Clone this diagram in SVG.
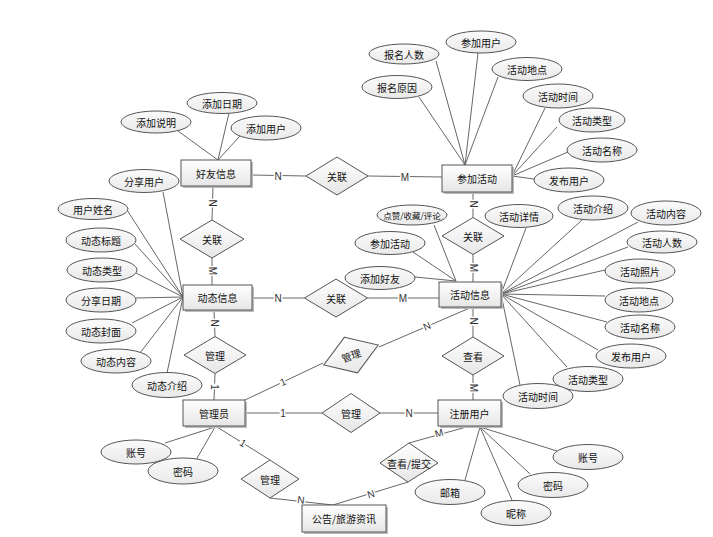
<svg xmlns="http://www.w3.org/2000/svg" width="713" height="537" viewBox="0 0 713 537">
<defs>
<linearGradient id="g" x1="0" y1="0" x2="0" y2="1"><stop offset="0" stop-color="#ffffff"/><stop offset="1" stop-color="#e6e6e6"/></linearGradient>
<linearGradient id="ge" x1="0" y1="0" x2="0" y2="1"><stop offset="0" stop-color="#fbfbfb"/><stop offset="1" stop-color="#e9e9e9"/></linearGradient>
</defs>
<style>
.c line,.c polyline{stroke:#666;stroke-width:1;fill:none}
.e ellipse{fill:url(#ge);stroke:#555;stroke-width:1}
.r rect.s{fill:#bbb;stroke:none}
.r rect.b{fill:url(#g);stroke:#555;stroke-width:1}
.d polygon{fill:url(#g);stroke:#555;stroke-width:1}
text{font-family:"Noto Sans CJK SC","Liberation Sans",sans-serif;font-size:10px;fill:#111;text-anchor:middle;dominant-baseline:central}
.lb{font-family:"Liberation Sans",sans-serif;font-size:10px;fill:#333;stroke:#fff;stroke-width:3;paint-order:stroke}
</style>
<rect width="713" height="537" fill="#fff"/>
<g id="connectors" class="c">
<line x1="251" y1="175" x2="306" y2="176"/>
<line x1="368" y1="176" x2="442" y2="177"/>
<line x1="213" y1="186" x2="212" y2="220"/>
<line x1="212" y1="258" x2="212" y2="285"/>
<line x1="252" y1="298" x2="304.5" y2="298"/>
<line x1="367.5" y1="298" x2="439" y2="298"/>
<line x1="473" y1="192" x2="473" y2="217.5"/>
<line x1="473" y1="254.5" x2="473" y2="282"/>
<line x1="214" y1="310" x2="215" y2="336.5"/>
<line x1="215" y1="373.5" x2="214" y2="400"/>
<line x1="473" y1="307" x2="473" y2="337"/>
<line x1="473" y1="375" x2="473" y2="400"/>
<line x1="245" y1="400" x2="323" y2="363"/>
<line x1="379" y1="347" x2="472" y2="307"/>
<line x1="245" y1="413" x2="322" y2="413"/>
<line x1="380" y1="413" x2="438" y2="413"/>
<line x1="217" y1="427" x2="270" y2="460"/>
<line x1="270" y1="498" x2="333" y2="505"/>
<line x1="333" y1="505" x2="408" y2="482"/>
<line x1="409" y1="443" x2="470" y2="426"/>
<!-- attributes -->
<line x1="218" y1="160" x2="178" y2="131"/>
<line x1="218" y1="160" x2="229" y2="113"/>
<line x1="218" y1="160" x2="240" y2="136"/>
<line x1="183" y1="297" x2="163" y2="192"/>
<line x1="183" y1="297" x2="127" y2="210"/>
<line x1="183" y1="297" x2="135" y2="244"/>
<line x1="183" y1="297" x2="136" y2="273"/>
<line x1="183" y1="297" x2="136" y2="298"/>
<line x1="183" y1="297" x2="132" y2="323"/>
<line x1="183" y1="297" x2="140" y2="353"/>
<line x1="183" y1="297" x2="167" y2="373"/>
<line x1="465" y1="165" x2="436" y2="61"/>
<line x1="465" y1="165" x2="478" y2="53"/>
<line x1="465" y1="165" x2="498" y2="77"/>
<line x1="465" y1="165" x2="419" y2="97"/>
<line x1="512" y1="176" x2="545" y2="108"/>
<line x1="512" y1="176" x2="557" y2="127"/>
<line x1="512" y1="176" x2="568" y2="152"/>
<line x1="512" y1="176" x2="534" y2="179"/>
<line x1="456" y1="281" x2="434" y2="225"/>
<line x1="456" y1="281" x2="413" y2="252"/>
<line x1="456" y1="281" x2="415" y2="277"/>
<line x1="501" y1="294" x2="526" y2="228"/>
<line x1="501" y1="294" x2="582" y2="220"/>
<line x1="501" y1="294" x2="638" y2="222"/>
<line x1="501" y1="294" x2="628" y2="247"/>
<line x1="501" y1="294" x2="605" y2="270"/>
<line x1="501" y1="294" x2="605" y2="296"/>
<line x1="501" y1="294" x2="607" y2="322"/>
<line x1="501" y1="294" x2="598" y2="350"/>
<line x1="501" y1="294" x2="567" y2="367"/>
<line x1="501" y1="294" x2="520" y2="385"/>
<line x1="215" y1="427" x2="165" y2="443"/>
<line x1="215" y1="427" x2="196" y2="460"/>
<line x1="480" y1="427" x2="465" y2="480"/>
<line x1="480" y1="427" x2="512" y2="500"/>
<line x1="480" y1="427" x2="530" y2="474"/>
<line x1="480" y1="427" x2="557" y2="451"/>
<!-- cardinality labels -->
<text class="lb" x="278" y="176">N</text>
<text class="lb" x="405" y="177">M</text>
<text class="lb" transform="translate(212,203) rotate(90)">N</text>
<text class="lb" transform="translate(212,271) rotate(90)">M</text>
<text class="lb" x="278" y="298">N</text>
<text class="lb" x="403" y="298">M</text>
<text class="lb" transform="translate(473,204) rotate(90)">N</text>
<text class="lb" transform="translate(473,268) rotate(90)">M</text>
<text class="lb" transform="translate(214,323) rotate(90)">N</text>
<text class="lb" transform="translate(214,387) rotate(90)">1</text>
<text class="lb" transform="translate(473,321) rotate(90)">N</text>
<text class="lb" transform="translate(473,388) rotate(90)">M</text>
<text class="lb" transform="translate(283,382) rotate(-25)">1</text>
<text class="lb" transform="translate(427,326) rotate(-23)">N</text>
<text class="lb" x="283" y="413">1</text>
<text class="lb" x="409" y="413">N</text>
<text class="lb" transform="translate(243,443) rotate(32)">1</text>
<text class="lb" transform="translate(301,500) rotate(6)">N</text>
<text class="lb" transform="translate(371,494) rotate(-17)">N</text>
<text class="lb" transform="translate(439,433) rotate(-16)">M</text>
</g>
<!-- entities -->
<g id="haoyou" class="r"><rect class="s" x="183" y="162" width="70" height="26"/><rect class="b" x="181" y="160" width="70" height="26"/><text x="216" y="173">好友信息</text></g>
<g id="canjia" class="r"><rect class="s" x="444" y="167" width="70" height="27"/><rect class="b" x="442" y="165" width="70" height="27"/><text x="477" y="178.5">参加活动</text></g>
<g id="dongtai" class="r"><rect class="s" x="185" y="287" width="69" height="25"/><rect class="b" x="183" y="285" width="69" height="25"/><text x="217.5" y="297.5">动态信息</text></g>
<g id="huodong" class="r"><rect class="s" x="441" y="284" width="62" height="25"/><rect class="b" x="439" y="282" width="62" height="25"/><text x="470" y="294.5">活动信息</text></g>
<g id="admin" class="r"><rect class="s" x="185" y="402" width="62" height="26"/><rect class="b" x="183" y="400" width="62" height="26"/><text x="214" y="413">管理员</text></g>
<g id="user" class="r"><rect class="s" x="440" y="402" width="63" height="26"/><rect class="b" x="438" y="400" width="63" height="26"/><text x="469.5" y="413">注册用户</text></g>
<g id="notice" class="r"><rect class="s" x="304" y="507" width="84" height="27"/><rect class="b" x="302" y="505" width="84" height="27"/><text x="344" y="518.5">公告/旅游资讯</text></g>
<!-- relationships -->
<g id="rel1" class="d"><polygon points="337,157 368,176 337,195 306,176"/><text x="337" y="176">关联</text></g>
<g id="rel2" class="d"><polygon points="212,220 244,239 212,258 180,239"/><text x="212" y="239">关联</text></g>
<g id="rel3" class="d"><polygon points="336,279 367.5,298 336,317 304.5,298"/><text x="336" y="298">关联</text></g>
<g id="rel4" class="d"><polygon points="473,217.5 504,236 473,254.5 442,236"/><text x="473" y="236">关联</text></g>
<g id="rel5" class="d"><polygon points="215,336.5 246,355 215,373.5 184,355"/><text x="215" y="355">管理</text></g>
<g id="rel6" class="d"><polygon points="473,337 504,356 473,375 442,356"/><text x="473" y="356">查看</text></g>
<g id="rel7" class="d" transform="translate(351,355) rotate(-20)"><polygon points="0,-19 29,0 0,19 -29,0"/><text x="0" y="0">管理</text></g>
<g id="rel8" class="d"><polygon points="351,393.5 380,413 351,432.5 322,413"/><text x="351" y="413">管理</text></g>
<g id="rel9" class="d"><polygon points="270,460 299,479 270,498 241,479"/><text x="270" y="479">管理</text></g>
<g id="rel10" class="d"><polygon points="409,443 438,463 408,482 380,463"/><text x="409" y="463">查看/提交</text></g>
<!-- attributes -->
<g class="e">
<g id="a1"><ellipse cx="156" cy="122" rx="35" ry="11"/><text x="156" y="122">添加说明</text></g>
<g id="a2"><ellipse cx="222" cy="103" rx="35" ry="10.5"/><text x="222" y="103">添加日期</text></g>
<g id="a3"><ellipse cx="266" cy="128" rx="35" ry="12"/><text x="266" y="128">添加用户</text></g>
<g id="a4"><ellipse cx="144" cy="181" rx="35" ry="11.5"/><text x="144" y="181">分享用户</text></g>
<g id="a5"><ellipse cx="93" cy="209" rx="35" ry="10.5"/><text x="93" y="209">用户姓名</text></g>
<g id="a6"><ellipse cx="101" cy="240" rx="35" ry="12"/><text x="101" y="240">动态标题</text></g>
<g id="a7"><ellipse cx="102" cy="270" rx="35" ry="12"/><text x="102" y="270">动态类型</text></g>
<g id="a8"><ellipse cx="101" cy="300" rx="35" ry="12"/><text x="101" y="300">分享日期</text></g>
<g id="a9"><ellipse cx="101" cy="331" rx="35" ry="12"/><text x="101" y="331">动态封面</text></g>
<g id="a10"><ellipse cx="116" cy="361" rx="35" ry="12"/><text x="116" y="361">动态内容</text></g>
<g id="a11"><ellipse cx="167" cy="385" rx="35" ry="12.5"/><text x="167" y="385">动态介绍</text></g>
<g id="a12"><ellipse cx="404" cy="54" rx="35" ry="10"/><text x="404" y="54">报名人数</text></g>
<g id="a13"><ellipse cx="481" cy="42" rx="35" ry="11"/><text x="481" y="42">参加用户</text></g>
<g id="a14"><ellipse cx="527" cy="69" rx="35" ry="11.5"/><text x="527" y="69">活动地点</text></g>
<g id="a15"><ellipse cx="397" cy="87" rx="35" ry="11.5"/><text x="397" y="87">报名原因</text></g>
<g id="a16"><ellipse cx="558" cy="96" rx="35" ry="12"/><text x="558" y="96">活动时间</text></g>
<g id="a17"><ellipse cx="592" cy="120" rx="33" ry="12"/><text x="592" y="120">活动类型</text></g>
<g id="a18"><ellipse cx="602" cy="150" rx="35" ry="12"/><text x="602" y="150">活动名称</text></g>
<g id="a19"><ellipse cx="569" cy="180" rx="35" ry="12"/><text x="569" y="180">发布用户</text></g>
<g id="a20"><ellipse cx="412" cy="215" rx="35" ry="10"/><text x="412" y="215" style="font-size:8.5px">点赞/收藏/评论</text></g>
<g id="a21"><ellipse cx="519" cy="216" rx="34" ry="11.5"/><text x="519" y="216">活动详情</text></g>
<g id="a22"><ellipse cx="593" cy="208" rx="35" ry="12"/><text x="593" y="208">活动介绍</text></g>
<g id="a23"><ellipse cx="666" cy="213" rx="35" ry="12"/><text x="666" y="213">活动内容</text></g>
<g id="a24"><ellipse cx="662" cy="242" rx="35" ry="11"/><text x="662" y="242">活动人数</text></g>
<g id="a25"><ellipse cx="640" cy="271" rx="35" ry="12"/><text x="640" y="271">活动照片</text></g>
<g id="a26"><ellipse cx="639" cy="300" rx="34" ry="12"/><text x="639" y="300">活动地点</text></g>
<g id="a27"><ellipse cx="640" cy="327" rx="35" ry="12"/><text x="640" y="327">活动名称</text></g>
<g id="a28"><ellipse cx="631" cy="356" rx="35" ry="12"/><text x="631" y="356">发布用户</text></g>
<g id="a29"><ellipse cx="588" cy="379" rx="35" ry="12.5"/><text x="588" y="379">活动类型</text></g>
<g id="a30"><ellipse cx="538" cy="396" rx="35" ry="12.5"/><text x="538" y="396">活动时间</text></g>
<g id="a31"><ellipse cx="390" cy="243" rx="35" ry="11.5"/><text x="390" y="243">参加活动</text></g>
<g id="a32"><ellipse cx="380" cy="278" rx="35" ry="11.5"/><text x="380" y="278">添加好友</text></g>
<g id="a33"><ellipse cx="136" cy="452" rx="35" ry="12"/><text x="136" y="452">账号</text></g>
<g id="a34"><ellipse cx="183" cy="471" rx="35" ry="13"/><text x="183" y="471">密码</text></g>
<g id="a35"><ellipse cx="450" cy="492" rx="35" ry="12.5"/><text x="450" y="492">邮箱</text></g>
<g id="a36"><ellipse cx="516" cy="513" rx="35" ry="12.5"/><text x="516" y="513">昵称</text></g>
<g id="a37"><ellipse cx="553" cy="485" rx="35" ry="12.5"/><text x="553" y="485">密码</text></g>
<g id="a38"><ellipse cx="588" cy="457" rx="35" ry="12.5"/><text x="588" y="457">账号</text></g>
</g>
</svg>
